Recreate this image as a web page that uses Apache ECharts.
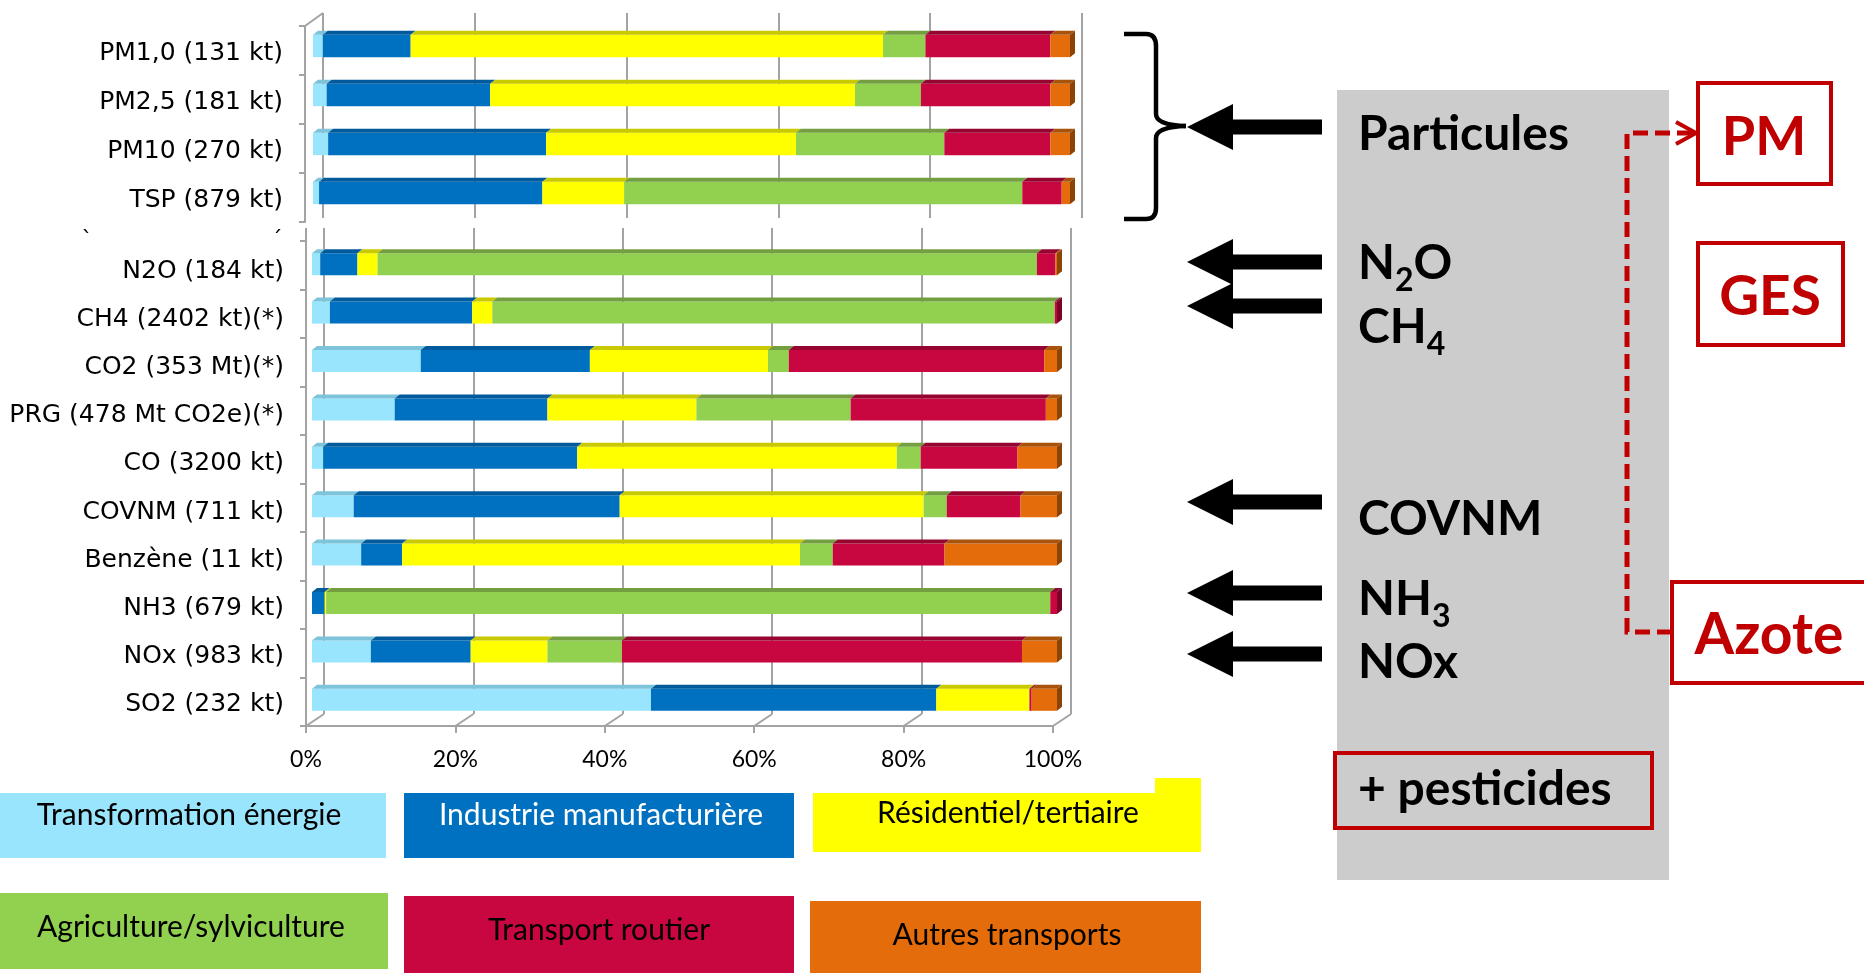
<!DOCTYPE html>
<html>
<head>
<meta charset="utf-8">
<script src="https://cdn.jsdelivr.net/npm/echarts@6/dist/echarts.min.js"></script>
<style>
  html, body { margin: 0; padding: 0; background: #ffffff; }
  #chart { width: 1864px; height: 973px; }
</style>
</head>
<body>
<div id="chart"></div>
<script>
// Répartition sectorielle des émissions (en % du total de chaque polluant)

// Particules
const particleCategories = ['PM1,0 (131 kt)', 'PM2,5 (181 kt)', 'PM10 (270 kt)', 'TSP (879 kt)'];
const particleTransfo     = [1.3, 1.8, 2.0, 0.8];
const particleIndustrie   = [11.6, 21.6, 28.8, 29.5];
const particleResidentiel = [62.4, 48.2, 33.0, 10.8];
const particleAgriculture = [5.6, 8.7, 19.6, 52.6];
const particleRoutier     = [16.5, 17.1, 14.0, 5.2];
const particleAutres       = [2.6, 2.6, 2.6, 1.1];

// Gaz
const gasCategories = ['N2O (184 kt)', 'CH4 (2402 kt)(*)', 'CO2 (353 Mt)(*)', 'PRG (478 Mt CO2e)(*)',
  'CO (3200 kt)', 'COVNM (711 kt)', 'Benzène (11 kt)', 'NH3 (679 kt)', 'NOx (983 kt)', 'SO2 (232 kt)'];
const gasTransfo     = [1.1, 2.4, 14.6, 11.1, 1.5, 5.6, 6.6, 0.0, 7.9, 45.5];
const gasIndustrie   = [5.0, 19.1, 22.7, 20.5, 34.1, 35.7, 5.5, 1.7, 13.4, 38.3];
const gasResidentiel = [2.7, 2.7, 23.9, 20.0, 42.9, 40.8, 53.4, 0.2, 10.3, 12.5];
const gasAgriculture = [88.5, 75.5, 2.8, 20.7, 3.2, 3.1, 4.4, 97.2, 10.0, 0.0];
const gasRoutier     = [2.5, 0.3, 34.3, 26.2, 13.0, 9.9, 15.0, 0.9, 53.7, 0.3];
const gasAutres       = [0.2, 0.0, 1.7, 1.5, 5.3, 4.9, 15.1, 0.0, 4.7, 3.4];

const xTicks = [0, 20, 40, 60, 80, 100];
const sectorNames = ['Transformation énergie', 'Industrie manufacturière', 'Résidentiel/tertiaire',
  'Agriculture/sylviculture', 'Transport routier', 'Autres transports'];

// Styles
const sectorColors = ['#99E5FD', '#0070C0', '#FFFF00', '#92D050', '#C8063F', '#E46C0A'];
const sectorTops   = ['#7DC3DA', '#005A9C', '#C9C900', '#739F40', '#95052F', '#A9520A'];
const sectorSides  = ['#6BA9BE', '#004C84', '#A8A800', '#5F8535', '#7A0427', '#8C4306'];
const gridColor = '#A3A3A3';
const red = '#C00000';

// stacked segments [start, end, categoryIndex, sectorIndex, isLast]
function buildSegments(count, shares) {
  const out = [];
  for (let i = 0; i < count; i++) {
    let lastK = -1;
    shares.forEach((arr, k) => { if (arr[i] > 0) lastK = k; });
    let acc = 0;
    shares.forEach((arr, k) => {
      const v = arr[i];
      if (v > 0) out.push([acc, acc + v, i, k, k === lastK ? 1 : 0]);
      acc += v;
    });
  }
  return out;
}
const particleSegments = buildSegments(particleCategories.length,
  [particleTransfo, particleIndustrie, particleResidentiel, particleAgriculture, particleRoutier, particleAutres]);
const gasSegments = buildSegments(gasCategories.length,
  [gasTransfo, gasIndustrie, gasResidentiel, gasAgriculture, gasRoutier, gasAutres]);

// pseudo-3D bar segment: front face, top face, and right face on the last segment
function renderBar(params, api) {
  const s = api.value(0), e = api.value(1), c = api.value(2), k = api.value(3), last = api.value(4);
  const p0 = api.coord([s, c]);
  const p1 = api.coord([e, c]);
  const band = api.size([0, 1])[1];
  const h = band * 0.455, dx = 5, dy = 4;
  const yTop = p0[1] - h / 2 + dy / 2;
  const children = [
    { type: 'rect', shape: { x: p0[0], y: yTop, width: p1[0] - p0[0], height: h },
      style: { fill: sectorColors[k] } },
    { type: 'polygon', shape: { points: [[p0[0], yTop], [p1[0], yTop], [p1[0] + dx, yTop - dy], [p0[0] + dx, yTop - dy]] },
      style: { fill: sectorTops[k] } }
  ];
  if (last) {
    children.push({ type: 'polygon',
      shape: { points: [[p1[0], yTop], [p1[0] + dx, yTop - dy], [p1[0] + dx, yTop + h - dy], [p1[0], yTop + h]] },
      style: { fill: sectorSides[k] } });
  }
  return { type: 'group', children };
}

// floor edges joining front ticks to the back wall
function renderFloor(params, api) {
  const x = api.coord([api.value(0), 0])[0];
  const bottom = params.coordSys.y + params.coordSys.height;
  return { type: 'line', shape: { x1: x, y1: bottom, x2: x + 18, y2: bottom - 12 },
    style: { stroke: gridColor, lineWidth: 2 } };
}
// top-left edge of the particle block
function renderCorner(params, api) {
  const cs = params.coordSys;
  return { type: 'line', shape: { x1: cs.x, y1: cs.y, x2: cs.x + 18, y2: cs.y - 13 },
    style: { stroke: gridColor, lineWidth: 2 } };
}
// front axis continuing up to the cut of the gas block
function renderAxisTop(params, api) {
  const cs = params.coordSys;
  return { type: 'line', shape: { x1: cs.x, y1: cs.y, x2: cs.x, y2: cs.y - 13 },
    style: { stroke: gridColor, lineWidth: 2 } };
}

const wallAxis = {
  type: 'value', min: 0, max: 100, interval: 20,
  axisLine: { show: false }, axisTick: { show: false }, axisLabel: { show: false },
  splitLine: { show: true, lineStyle: { color: gridColor, width: 2 } }
};
const hiddenX = { type: 'value', min: 0, max: 100, show: false, splitLine: { show: false } };
const catLabel = { color: '#000', fontFamily: 'DejaVu Sans', fontSize: 25, margin: 22 };
const frontLine = { show: true, lineStyle: { color: gridColor, width: 2 } };
const frontTick = { show: true, length: 6, lineStyle: { color: gridColor, width: 2 } };

const option = {
  animation: false,
  backgroundColor: '#ffffff',
  grid: [
    { left: 323, top: 13, width: 759, height: 205 },   // particules : paroi du fond
    { left: 305, top: 26, width: 759, height: 196 },   // particules : plan avant
    { left: 313, top: 19.5, width: 757, height: 196 }, // particules : barres
    { left: 324, top: 228, width: 747, height: 486 },  // gaz : paroi du fond
    { left: 306, top: 241, width: 747, height: 485 },  // gaz : plan avant
    { left: 312, top: 238, width: 745, height: 484 },  // gaz : barres
    { left: 305, top: 28.5, width: 759, height: 196 }, // particules : libellés
    { left: 306, top: 247, width: 747, height: 482 }   // gaz : libellés
  ],
  xAxis: [
    Object.assign({ gridIndex: 0 }, wallAxis),
    Object.assign({ gridIndex: 1 }, hiddenX),
    Object.assign({ gridIndex: 2 }, hiddenX),
    Object.assign({ gridIndex: 3 }, wallAxis),
    {
      gridIndex: 4, type: 'value', min: 0, max: 100, interval: 20,
      axisLine: frontLine,
      axisTick: { show: true, length: 7, lineStyle: { color: gridColor, width: 2 } },
      axisLabel: { formatter: '{value}%', color: '#000', fontFamily: 'Lato', fontSize: 23, margin: 22 },
      splitLine: { show: false }
    },
    Object.assign({ gridIndex: 5 }, hiddenX),
    Object.assign({ gridIndex: 6 }, hiddenX),
    Object.assign({ gridIndex: 7 }, hiddenX)
  ],
  yAxis: [
    { gridIndex: 0, type: 'value', show: false },
    { gridIndex: 1, type: 'category', inverse: true, data: particleCategories,
      axisLine: frontLine, axisTick: frontTick, axisLabel: { show: false } },
    { gridIndex: 2, type: 'category', inverse: true, data: particleCategories, show: false },
    { gridIndex: 3, type: 'value', show: false },
    { gridIndex: 4, type: 'category', inverse: true, data: gasCategories,
      axisLine: frontLine, axisTick: frontTick, axisLabel: { show: false } },
    { gridIndex: 5, type: 'category', inverse: true, data: gasCategories, show: false },
    { gridIndex: 6, type: 'category', inverse: true, data: particleCategories,
      axisLine: { show: false }, axisTick: { show: false }, axisLabel: catLabel },
    { gridIndex: 7, type: 'category', inverse: true, data: gasCategories,
      axisLine: { show: false }, axisTick: { show: false }, axisLabel: catLabel }
  ],
  series: [
    { type: 'custom', xAxisIndex: 1, yAxisIndex: 1, data: [[0, 0]], renderItem: renderCorner, silent: true },
    { type: 'custom', xAxisIndex: 4, yAxisIndex: 4, data: [[0, 0]], renderItem: renderAxisTop, silent: true },
    { type: 'custom', xAxisIndex: 4, yAxisIndex: 4, data: xTicks.map(v => [v, 0]),
      encode: { x: 0, y: 1 }, renderItem: renderFloor, silent: true },
    { type: 'custom', name: 'Particules', xAxisIndex: 2, yAxisIndex: 2, data: particleSegments,
      encode: { x: [0, 1], y: 2 }, renderItem: renderBar, z: 3 },
    { type: 'custom', name: 'Gaz', xAxisIndex: 5, yAxisIndex: 5, data: gasSegments,
      encode: { x: [0, 1], y: 2 }, renderItem: renderBar, z: 3 }
  ],
  graphic: []
};

// ---- légende en pavés colorés ----
const legendBoxes = [
  { r: [0, 793, 386, 65], t: [189, 815] },
  { r: [404, 793, 390, 65], t: [601, 815] },
  { r: [813, 793, 388, 59], t: [1008, 813] },
  { r: [0, 893, 388, 76], t: [191, 927] },
  { r: [404, 896, 390, 77], t: [599, 930] },
  { r: [810, 901, 391, 72], t: [1007, 935] }
];
const G = option.graphic;
legendBoxes.forEach((b, k) => {
  G.push({ type: 'rect', shape: { x: b.r[0], y: b.r[1], width: b.r[2], height: b.r[3] },
    style: { fill: sectorColors[k] }, z: 1 });
  G.push({ type: 'text', x: b.t[0], y: b.t[1], z: 2,
    style: { text: sectorNames[k], font: '30px Lato', fill: k === 1 ? '#ffffff' : '#000000',
      align: 'center', verticalAlign: 'middle' } });
});
// petit décroché du pavé jaune
G.push({ type: 'rect', shape: { x: 1155, y: 778, width: 46, height: 16 }, style: { fill: sectorColors[2] }, z: 1 });

// restes d'étiquette au raccord des deux blocs
G.push({ type: 'text', x: 87, y: 240, style: { text: '`', font: '22px DejaVu Sans', fill: '#000', align: 'center', verticalAlign: 'middle' } });
G.push({ type: 'text', x: 277, y: 240, style: { text: '´', font: '22px DejaVu Sans', fill: '#000', align: 'center', verticalAlign: 'middle' } });

// ---- panneau de droite ----
G.push({ type: 'rect', shape: { x: 1337, y: 90, width: 332, height: 790 }, style: { fill: '#CCCCCC' }, z: 1 });

// accolade des particules
const braceStyle = { stroke: '#000', lineWidth: 4.5, fill: null };
[
  { type: 'line', shape: { x1: 1124, y1: 34, x2: 1146, y2: 34 } },
  { type: 'bezierCurve', shape: { x1: 1146, y1: 34, cpx1: 1156, cpy1: 34, x2: 1156, y2: 46 } },
  { type: 'line', shape: { x1: 1156, y1: 46, x2: 1156, y2: 114 } },
  { type: 'bezierCurve', shape: { x1: 1156, y1: 114, cpx1: 1156, cpy1: 125, x2: 1186, y2: 126 } },
  { type: 'bezierCurve', shape: { x1: 1186, y1: 126, cpx1: 1156, cpy1: 127, x2: 1156, y2: 138 } },
  { type: 'line', shape: { x1: 1156, y1: 138, x2: 1156, y2: 208 } },
  { type: 'bezierCurve', shape: { x1: 1156, y1: 208, cpx1: 1156, cpy1: 219, x2: 1146, y2: 219 } },
  { type: 'line', shape: { x1: 1146, y1: 219, x2: 1124, y2: 219 } }
].forEach(el => { el.style = braceStyle; el.z = 5; G.push(el); });

// flèches
[127, 262, 306, 502, 593, 654].forEach(y => {
  G.push({ type: 'polygon', z: 5,
    shape: { points: [[1187, y], [1233, y - 23], [1233, y - 7.5], [1322, y - 7.5], [1322, y + 7.5], [1233, y + 7.5], [1233, y + 23]] },
    style: { fill: '#000' } });
});

// libellés avec indices
const measure = document.createElement('canvas').getContext('2d');
function textWidth(str, font) { measure.font = font; return measure.measureText(str).width; }
function formula(parts, x, y) {
  let cx = x;
  parts.forEach(p => {
    const font = p.sub ? 'bold 32px Lato' : 'bold 48px Lato';
    G.push({ type: 'text', x: cx, y: p.sub ? y + 17 : y, z: 6,
      style: { text: p.t, font, fill: '#000', align: 'left', verticalAlign: 'middle' } });
    cx += textWidth(p.t, font);
  });
}
formula([{ t: 'Particules' }], 1358, 135);
formula([{ t: 'N' }, { t: '2', sub: true }, { t: 'O' }], 1358, 264);
formula([{ t: 'CH' }, { t: '4', sub: true }], 1358, 328);
formula([{ t: 'COVNM' }], 1358, 520);
formula([{ t: 'NH' }, { t: '3', sub: true }], 1358, 600);
formula([{ t: 'NOx' }], 1358, 663);
formula([{ t: '+ pesticides' }], 1358, 790);

// encadré pesticides
G.push({ type: 'rect', z: 6, shape: { x: 1335, y: 753, width: 317, height: 75 },
  style: { fill: null, stroke: red, lineWidth: 4 } });

// liaison pointillée PM / Azote
G.push({ type: 'polyline', z: 6, shape: { points: [[1692, 133], [1627, 133], [1627, 632], [1672, 632]] },
  style: { stroke: red, lineWidth: 5, lineDash: [15, 7], fill: null } });
G.push({ type: 'polyline', z: 6, shape: { points: [[1676, 122], [1696, 133], [1676, 144]] },
  style: { stroke: red, lineWidth: 4, fill: null } });

// encadrés rouges
[
  { r: [1698, 83, 133, 101], t: 'PM', c: [1764, 138], s: 54 },
  { r: [1698, 243, 145, 102], t: 'GES', c: [1770, 297], s: 55 },
  { r: [1672, 582, 200, 101], t: 'Azote', c: [1769, 636], s: 57 }
].forEach(b => {
  G.push({ type: 'rect', z: 6, shape: { x: b.r[0], y: b.r[1], width: b.r[2], height: b.r[3] },
    style: { fill: '#ffffff', stroke: red, lineWidth: 4 } });
  G.push({ type: 'text', z: 7, x: b.c[0], y: b.c[1],
    style: { text: b.t, font: 'bold ' + b.s + 'px Lato', fill: red, align: 'center', verticalAlign: 'middle' } });
});

const chart = echarts.init(document.getElementById('chart'), null, { renderer: 'canvas' });
chart.setOption(option);
</script>
</body>
</html>
